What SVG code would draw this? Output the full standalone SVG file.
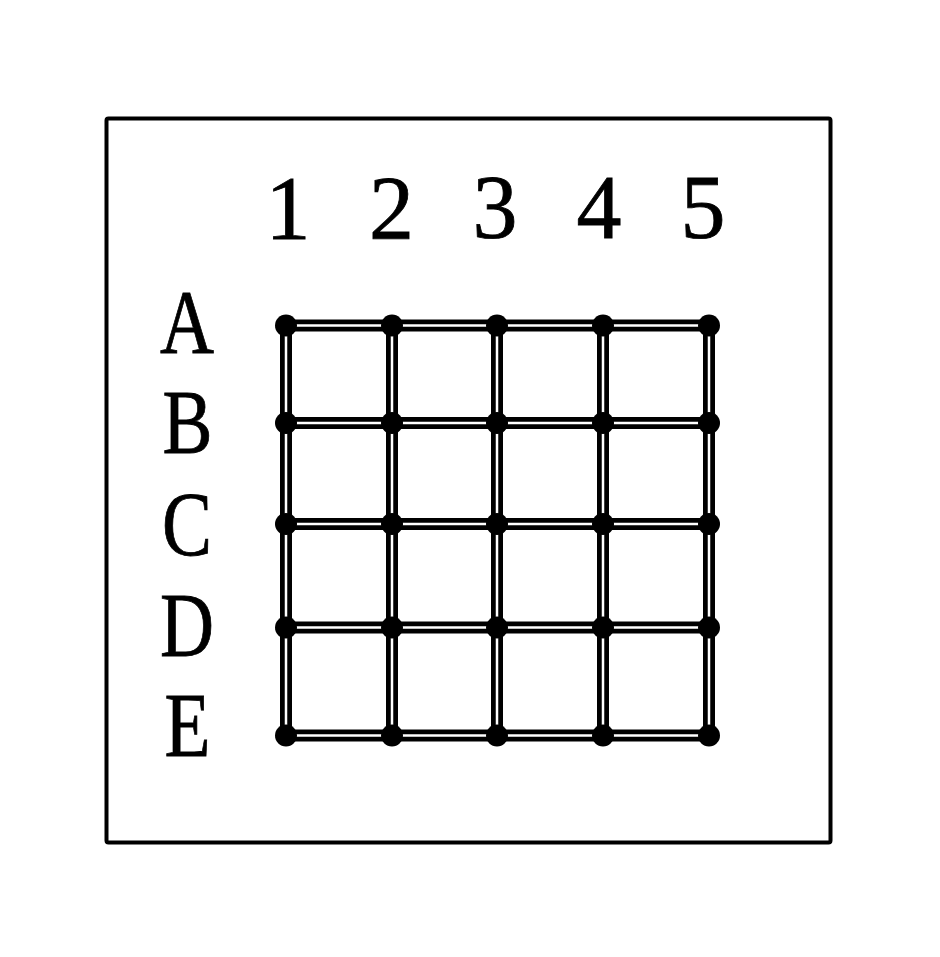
<svg xmlns="http://www.w3.org/2000/svg" width="940" height="957" viewBox="0 0 940 957">
  <style>
    .frame { fill: none; stroke: #000; stroke-width: 4; }
    .lbl { font-family: "Liberation Serif", "Times New Roman", serif; font-size: 90px; fill: #000; stroke: #000; stroke-width: 0.8; text-anchor: middle; }
    .eo { stroke: #000; stroke-width: 12; stroke-linecap: butt; }
    .ei { stroke: #fff; stroke-width: 2.5; stroke-linecap: butt; }
    .node { fill: #000; }
  </style>
  <rect width="940" height="957" fill="#fff"/>
  <rect class="frame" x="106.5" y="118.5" width="724" height="724" rx="2"/>

  <g id="col-labels">
    <text class="lbl" x="288" y="239">1</text>
    <text class="lbl" x="391.5" y="239">2</text>
    <text class="lbl" x="495" y="238">3</text>
    <text class="lbl" x="599" y="238">4</text>
    <text class="lbl" x="703" y="238">5</text>
  </g>
  <g id="row-labels">
    <text class="lbl" x="187" y="353" textLength="54" lengthAdjust="spacingAndGlyphs">A</text>
    <text class="lbl" x="187.5" y="453" textLength="50" lengthAdjust="spacingAndGlyphs">B</text>
    <text class="lbl" x="187" y="555" textLength="50" lengthAdjust="spacingAndGlyphs">C</text>
    <text class="lbl" x="187" y="656" textLength="54" lengthAdjust="spacingAndGlyphs">D</text>
    <text class="lbl" x="187.5" y="756" textLength="46" lengthAdjust="spacingAndGlyphs">E</text>
  </g>

  <g id="connectors">
    <g id="conn-outer">
      <line class="eo" x1="286" y1="325.5" x2="709" y2="325.5"/>
      <line class="eo" x1="286" y1="423" x2="709" y2="423"/>
      <line class="eo" x1="286" y1="524" x2="709" y2="524"/>
      <line class="eo" x1="286" y1="627.5" x2="709" y2="627.5"/>
      <line class="eo" x1="286" y1="735.5" x2="709" y2="735.5"/>
      <line class="eo" x1="286" y1="325.5" x2="286" y2="735.5"/>
      <line class="eo" x1="392" y1="325.5" x2="392" y2="735.5"/>
      <line class="eo" x1="497" y1="325.5" x2="497" y2="735.5"/>
      <line class="eo" x1="603" y1="325.5" x2="603" y2="735.5"/>
      <line class="eo" x1="709" y1="325.5" x2="709" y2="735.5"/>
    </g>
    <g id="conn-inner">
      <line class="ei" x1="286" y1="325.5" x2="709" y2="325.5"/>
      <line class="ei" x1="286" y1="423" x2="709" y2="423"/>
      <line class="ei" x1="286" y1="524" x2="709" y2="524"/>
      <line class="ei" x1="286" y1="627.5" x2="709" y2="627.5"/>
      <line class="ei" x1="286" y1="735.5" x2="709" y2="735.5"/>
      <line class="ei" x1="286" y1="325.5" x2="286" y2="735.5"/>
      <line class="ei" x1="392" y1="325.5" x2="392" y2="735.5"/>
      <line class="ei" x1="497" y1="325.5" x2="497" y2="735.5"/>
      <line class="ei" x1="603" y1="325.5" x2="603" y2="735.5"/>
      <line class="ei" x1="709" y1="325.5" x2="709" y2="735.5"/>
    </g>
  </g>

  <g id="nodes">
    <g id="A1"><circle class="node" cx="286" cy="325.5" r="11"/></g>
    <g id="A2"><circle class="node" cx="392" cy="325.5" r="11"/></g>
    <g id="A3"><circle class="node" cx="497" cy="325.5" r="11"/></g>
    <g id="A4"><circle class="node" cx="603" cy="325.5" r="11"/></g>
    <g id="A5"><circle class="node" cx="709" cy="325.5" r="11"/></g>
    <g id="B1"><circle class="node" cx="286" cy="423" r="11"/></g>
    <g id="B2"><circle class="node" cx="392" cy="423" r="11"/></g>
    <g id="B3"><circle class="node" cx="497" cy="423" r="11"/></g>
    <g id="B4"><circle class="node" cx="603" cy="423" r="11"/></g>
    <g id="B5"><circle class="node" cx="709" cy="423" r="11"/></g>
    <g id="C1"><circle class="node" cx="286" cy="524" r="11"/></g>
    <g id="C2"><circle class="node" cx="392" cy="524" r="11"/></g>
    <g id="C3"><circle class="node" cx="497" cy="524" r="11"/></g>
    <g id="C4"><circle class="node" cx="603" cy="524" r="11"/></g>
    <g id="C5"><circle class="node" cx="709" cy="524" r="11"/></g>
    <g id="D1"><circle class="node" cx="286" cy="627.5" r="11"/></g>
    <g id="D2"><circle class="node" cx="392" cy="627.5" r="11"/></g>
    <g id="D3"><circle class="node" cx="497" cy="627.5" r="11"/></g>
    <g id="D4"><circle class="node" cx="603" cy="627.5" r="11"/></g>
    <g id="D5"><circle class="node" cx="709" cy="627.5" r="11"/></g>
    <g id="E1"><circle class="node" cx="286" cy="735.5" r="11"/></g>
    <g id="E2"><circle class="node" cx="392" cy="735.5" r="11"/></g>
    <g id="E3"><circle class="node" cx="497" cy="735.5" r="11"/></g>
    <g id="E4"><circle class="node" cx="603" cy="735.5" r="11"/></g>
    <g id="E5"><circle class="node" cx="709" cy="735.5" r="11"/></g>
  </g>
</svg>
